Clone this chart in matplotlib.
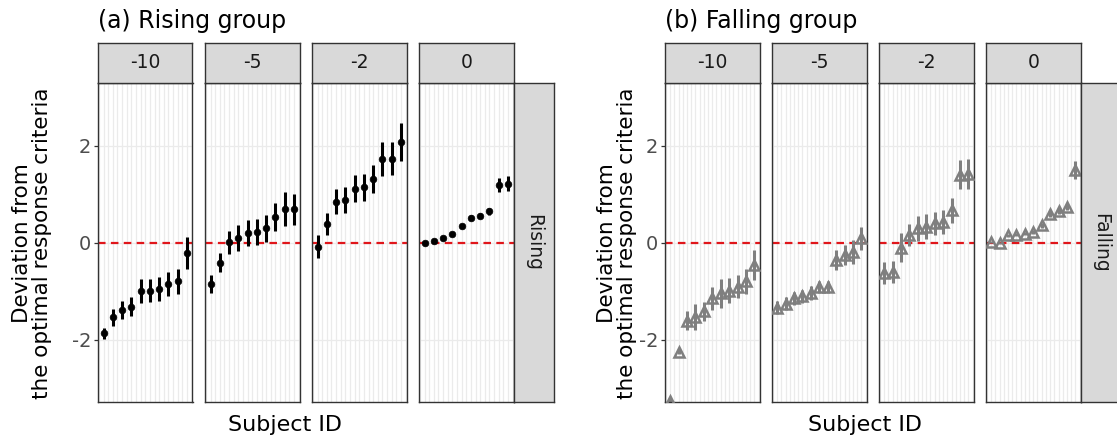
import numpy as np
import matplotlib
matplotlib.use('Agg')
from matplotlib import pyplot as plt

# Deviation from optimal criteria, per subject (sorted), with error half-widths
conditions = ['-10', '-5', '-2', '0']

rising_vals = [
    [-1.87, -1.54, -1.39, -1.32, -0.99, -0.99, -0.95, -0.85, -0.80, -0.22],
    [-0.85, -0.41, 0.01, 0.10, 0.21, 0.23, 0.30, 0.53, 0.69, 0.69],
    [-0.08, 0.38, 0.85, 0.88, 1.12, 1.15, 1.31, 1.73, 1.74, 2.08],
    [0.00, 0.04, 0.10, 0.18, 0.34, 0.52, 0.56, 0.65, 1.19, 1.22],
]
rising_err = [
    [0.11, 0.17, 0.19, 0.19, 0.25, 0.24, 0.25, 0.25, 0.26, 0.33],
    [0.18, 0.19, 0.24, 0.27, 0.27, 0.27, 0.28, 0.29, 0.35, 0.32],
    [0.23, 0.23, 0.25, 0.27, 0.27, 0.28, 0.29, 0.35, 0.34, 0.39],
    [0.01, 0.02, 0.02, 0.03, 0.04, 0.05, 0.05, 0.07, 0.15, 0.15],
]

falling_vals = [
    [-3.26, -2.25, -1.61, -1.53, -1.42, -1.15, -1.04, -0.99, -0.91, -0.80, -0.46],
    [-1.34, -1.26, -1.15, -1.11, -1.04, -0.92, -0.91, -0.36, -0.25, -0.19, 0.09],
    [-0.63, -0.61, -0.10, 0.16, 0.30, 0.33, 0.40, 0.43, 0.67, 1.40, 1.42],
    [0.01, -0.01, 0.15, 0.17, 0.19, 0.23, 0.36, 0.59, 0.66, 0.74, 1.50],
]
falling_err = [
    [0.05, 0.05, 0.20, 0.27, 0.20, 0.24, 0.30, 0.26, 0.24, 0.26, 0.30],
    [0.14, 0.13, 0.14, 0.14, 0.14, 0.12, 0.12, 0.20, 0.20, 0.24, 0.24],
    [0.23, 0.23, 0.30, 0.23, 0.26, 0.26, 0.24, 0.24, 0.26, 0.30, 0.30],
    [0.02, 0.02, 0.03, 0.03, 0.03, 0.04, 0.05, 0.06, 0.07, 0.07, 0.18],
]

W, H = 1117, 443
YLIM = (-3.29, 3.30)


def rect(x0, y0, x1, y1):
    # pixel box -> figure fraction
    return [x0 / W, 1 - y1 / H, (x1 - x0) / W, (y1 - y0) / H]


def strip(fig, box, text, rotation=0):
    ax = fig.add_axes(rect(*box))
    ax.set_facecolor('#d9d9d9')
    ax.set_xticks([])
    ax.set_yticks([])
    for s in ax.spines.values():
        s.set_color('#333333')
        s.set_linewidth(1.0)
    ax.text(0.5, 0.5, text, ha='center', va='center', rotation=rotation,
            fontsize=13.5, color='#1a1a1a', transform=ax.transAxes)


def draw_group(fig, lefts, vals, errs, style, title, ylab_x, xlab_x, label):
    axes = []
    for i, x0 in enumerate(lefts):
        ax = fig.add_axes(rect(x0, 83, x0 + 94.5, 402))
        v = np.array(vals[i])
        e = np.array(errs[i])
        n = len(v)
        x = np.arange(1, n + 1)
        for g in np.arange(0.5, n + 1, 0.5):
            ax.axvline(g, color='#ebebeb', lw=0.9, zorder=0)
        for g in [-2, 0, 2]:
            ax.axhline(g, color='#ebebeb', lw=0.9, zorder=0)
        ax.axhline(0, color='#e0161b', lw=1.6, ls=(0, (3.4, 2.4)), zorder=1)
        ax.errorbar(x, v, yerr=e, fmt='none', ecolor=style['color'],
                    elinewidth=style['elw'], zorder=2)
        ax.plot(x, v, linestyle='none', marker=style['marker'],
                ms=style['ms'], mfc=style['mfc'], mec=style['color'],
                mew=style['mew'], zorder=3, clip_on=True)
        ax.set_xlim(0.4, n + 0.6)
        ax.set_ylim(*YLIM)
        ax.set_xticks([])
        for s in ax.spines.values():
            s.set_color('#333333')
            s.set_linewidth(1.0)
        if i == 0:
            ax.set_yticks([-2, 0, 2])
            ax.set_yticklabels(['-2', '0', '2'])
            ax.tick_params(axis='y', colors='#333333', labelsize=14,
                           length=3, width=0.9, pad=2)
            ax.tick_params(axis='y', labelcolor='#4d4d4d')
        else:
            ax.set_yticks([])
        strip(fig, (x0, 43, x0 + 94.5, 83), conditions[i])
        axes.append(ax)
    right = lefts[-1] + 94.5
    strip(fig, (right, 83, right + 40, 402), label, rotation=-90)
    fig.text(lefts[0] / W, 1 - 21 / H, title, ha='left', va='center',
             fontsize=17, color='black')
    fig.text(ylab_x / W, 1 - 243 / H, 'Deviation from\nthe optimal response criteria',
             ha='center', va='center', rotation=90, fontsize=15.5,
             linespacing=1.0)
    fig.text(xlab_x / W, 1 - 425 / H, 'Subject ID', ha='center',
             va='center', fontsize=16)
    return axes


fig = plt.figure(figsize=(W / 100, H / 100), dpi=100)

draw_group(fig, [98, 205, 312, 419], rising_vals, rising_err,
           dict(color='black', marker='o', ms=4.8, mfc='black', mew=0.5, elw=2.2),
           '(a) Rising group', 32, 285, 'Rising')

draw_group(fig, [665, 772, 879, 986], falling_vals, falling_err,
           dict(color='#7f7f7f', marker='^', ms=7, mfc='none', mew=1.8, elw=2.2),
           '(b) Falling group', 617, 865, 'Falling')

fig.savefig('out.png', dpi=100)
